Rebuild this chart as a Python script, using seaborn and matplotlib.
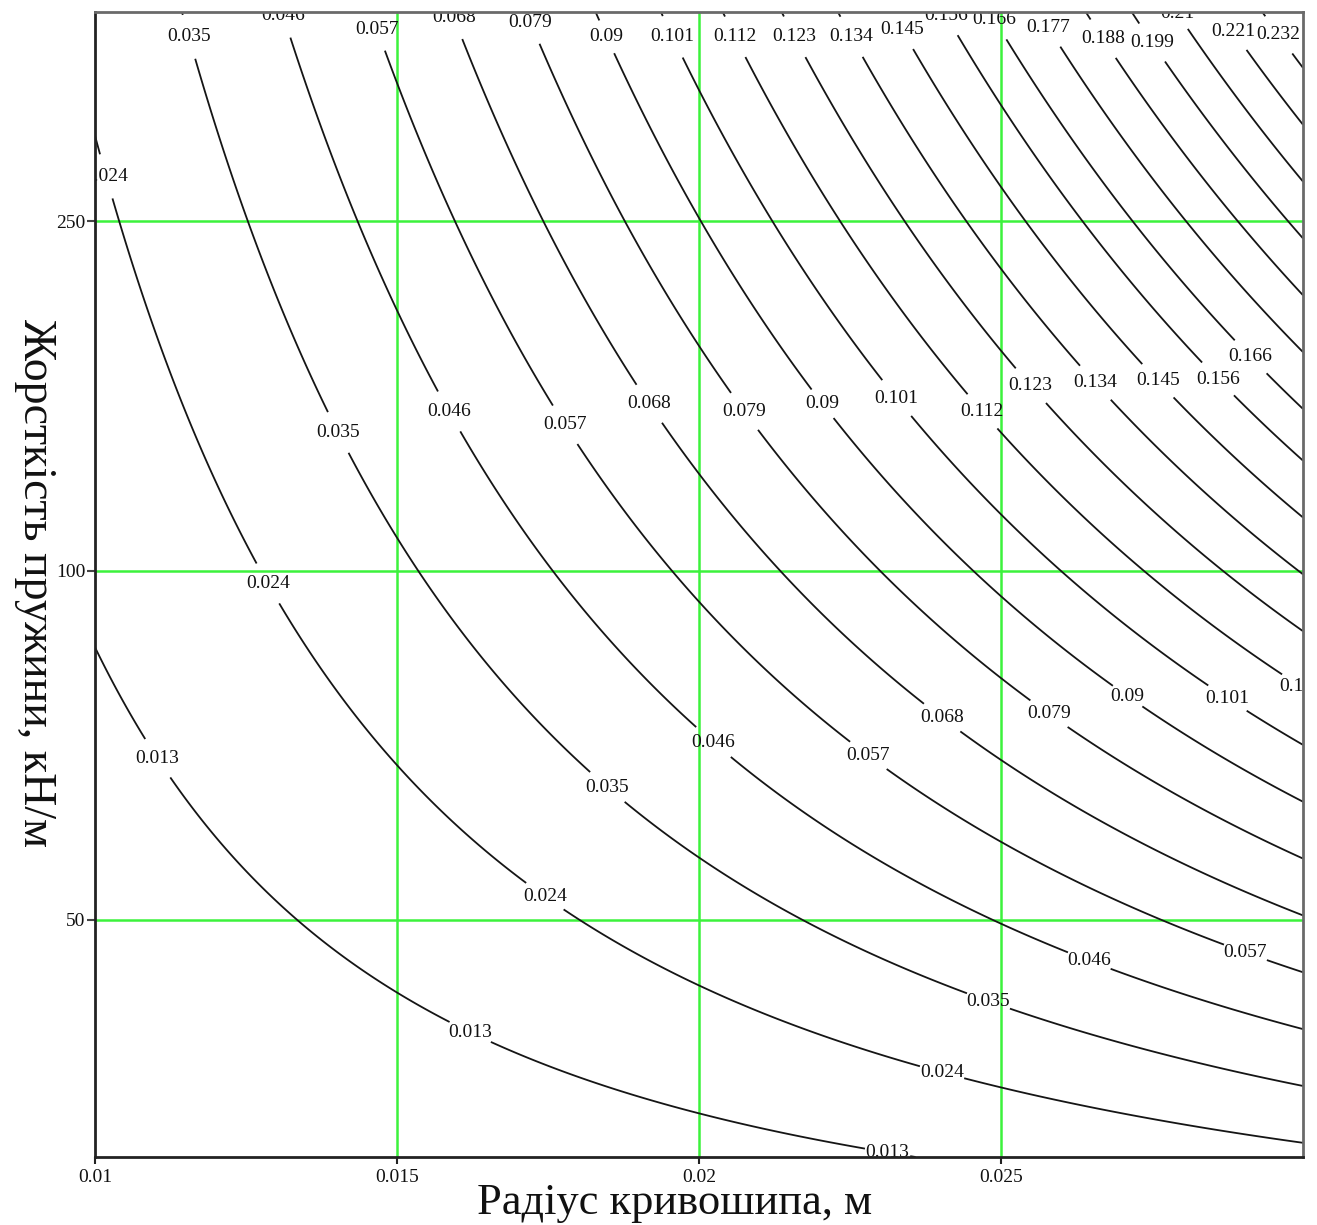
import numpy as np
import matplotlib
matplotlib.use("Agg")
import matplotlib.pyplot as plt
import seaborn as sns

# Crank radius, m (x) and spring stiffness, kN/m (y)
radius_range = [0.01, 0.03]
stiffness_range = [16.0, 180.0]

# Surface W = k * c * r^2 + w0
coef_k = 1.501
offset_w0 = -0.00036

# Contour levels as printed on the lines
levels = [0.013, 0.024, 0.035, 0.046, 0.057, 0.068, 0.079, 0.09, 0.101, 0.112,
          0.123, 0.134, 0.145, 0.156, 0.166, 0.177, 0.188, 0.199, 0.21, 0.221, 0.232]

# Axis ticks
radius_ticks = [0.01, 0.015, 0.02, 0.025]
radius_tick_labels = ["0.01", "0.015", "0.02", "0.025"]
stiffness_ticks = [50, 100, 150]
stiffness_tick_labels = ["50", "100", "250"]

x_title = "Радіус кривошипа, м"
y_title = "Жорсткість пружини, кН/м"

# Level labels: (level, approx. radius, approx. stiffness) of each label
label_spots = [
    (0.035, 0.01157, 176.4), (0.046, 0.01315, 179.5), (0.057, 0.01469, 177.7),
    (0.068, 0.01618, 180.0), (0.079, 0.01732, 178.8), (0.09, 0.01844, 176.4),
    (0.101, 0.01957, 176.3), (0.112, 0.02063, 176.5), (0.123, 0.02159, 176.5),
    (0.134, 0.02253, 176.4), (0.145, 0.02341, 177.8), (0.156, 0.02416, 180.0),
    (0.166, 0.02503, 179.5), (0.177, 0.02593, 178.5), (0.188, 0.02686, 177.3),
    (0.199, 0.02768, 176.7), (0.21, 0.02796, 180.0), (0.221, 0.02904, 178.5),
    (0.232, 0.02964, 177.0),
    (0.024, 0.01031, 156.9),
    (0.035, 0.01406, 120.0), (0.046, 0.01591, 122.9), (0.057, 0.01780, 120.9),
    (0.068, 0.01919, 123.9), (0.079, 0.02076, 122.9), (0.09, 0.02204, 124.0),
    (0.101, 0.02329, 124.7), (0.112, 0.02470, 122.9), (0.123, 0.02551, 126.6),
    (0.134, 0.02657, 127.2), (0.145, 0.02760, 127.3), (0.156, 0.02858, 127.3),
    (0.166, 0.02917, 130.9),
    (0.024, 0.01286, 98.1), (0.013, 0.01108, 73.4), (0.046, 0.02025, 75.5),
    (0.035, 0.01851, 69.2), (0.068, 0.02404, 79.0), (0.057, 0.02280, 73.5),
    (0.079, 0.02579, 79.5), (0.09, 0.02710, 82.1), (0.101, 0.02874, 81.5),
    (0.112, 0.02995, 83.0),
    (0.024, 0.01747, 53.5), (0.013, 0.01621, 34.0), (0.046, 0.02647, 44.3),
    (0.057, 0.02904, 45.3), (0.035, 0.02478, 38.5), (0.024, 0.02404, 28.2),
    (0.013, 0.02313, 16.9),
]

sns.set_theme(style="white")
plt.rcParams["font.family"] = ["Liberation Serif", "DejaVu Serif"]
plt.rcParams["axes.unicode_minus"] = False

W, H = 1317, 1225
fig = plt.figure(figsize=(W / 100, H / 100), dpi=100)
ax = fig.add_axes([95 / W, 1 - 1157 / H, (1303 - 95) / W, (1157 - 12) / H])

r = np.linspace(radius_range[0], radius_range[1], 600)
c = np.linspace(stiffness_range[0], stiffness_range[1], 600)
R, C = np.meshgrid(r, c)
Z = coef_k * C * R ** 2 + offset_w0

ax.set_xlim(*radius_range)
ax.set_ylim(*stiffness_range)

# green reference grid
for xv in radius_ticks[1:]:
    ax.axvline(xv, color="#3cf23c", lw=1.8, zorder=1)
for yv in stiffness_ticks:
    ax.axhline(yv, color="#3cf23c", lw=1.8, zorder=1)

cs = ax.contour(R, C, Z, levels=levels, colors="#151515", linewidths=1.3, zorder=2)

# snap every label spot onto its own level line
anchors = []
for lev, r0, c0 in label_spots:
    verts = np.concatenate(cs.allsegs[levels.index(lev)])
    pix = ax.transData.transform(verts)
    target = ax.transData.transform((r0, c0))
    k = np.argmin(((pix - target) ** 2).sum(axis=1))
    anchors.append(tuple(verts[k]))

ax.clabel(cs, manual=anchors, inline=True, inline_spacing=1,
          fontsize=14, fmt=lambda v: f"{v:g}", colors="#111111")
for t in cs.labelTexts:
    t.set_rotation(0)
    t.set_clip_on(True)
    t.set_clip_path(ax.patch)

ax.set_xticks(radius_ticks)
ax.set_xticklabels(radius_tick_labels)
ax.set_yticks(stiffness_ticks)
ax.set_yticklabels(stiffness_tick_labels)
ax.tick_params(axis="x", direction="out", length=5, width=1.5, color="#222222",
               pad=4, labelsize=14, labelcolor="#111111", bottom=True)
ax.tick_params(axis="y", direction="out", length=6, width=1.5, color="#444444",
               pad=1, labelsize=14, labelcolor="#111111", left=True)

for side, sp in ax.spines.items():
    sp.set_visible(True)
    sp.set_linewidth(2.0)
    sp.set_color("#222222" if side in ("left", "bottom") else "#6a6a6a")
    sp.set_zorder(5)

fig.text(675 / W, 1 - 1214 / H, x_title, ha="center", va="baseline",
         fontsize=32, color="#111111")
fig.text(35 / W, 1 - 583 / H, y_title, ha="center", va="center",
         rotation=-90, fontsize=33, color="#111111")

fig.savefig("out.png", dpi=100, facecolor="white")
